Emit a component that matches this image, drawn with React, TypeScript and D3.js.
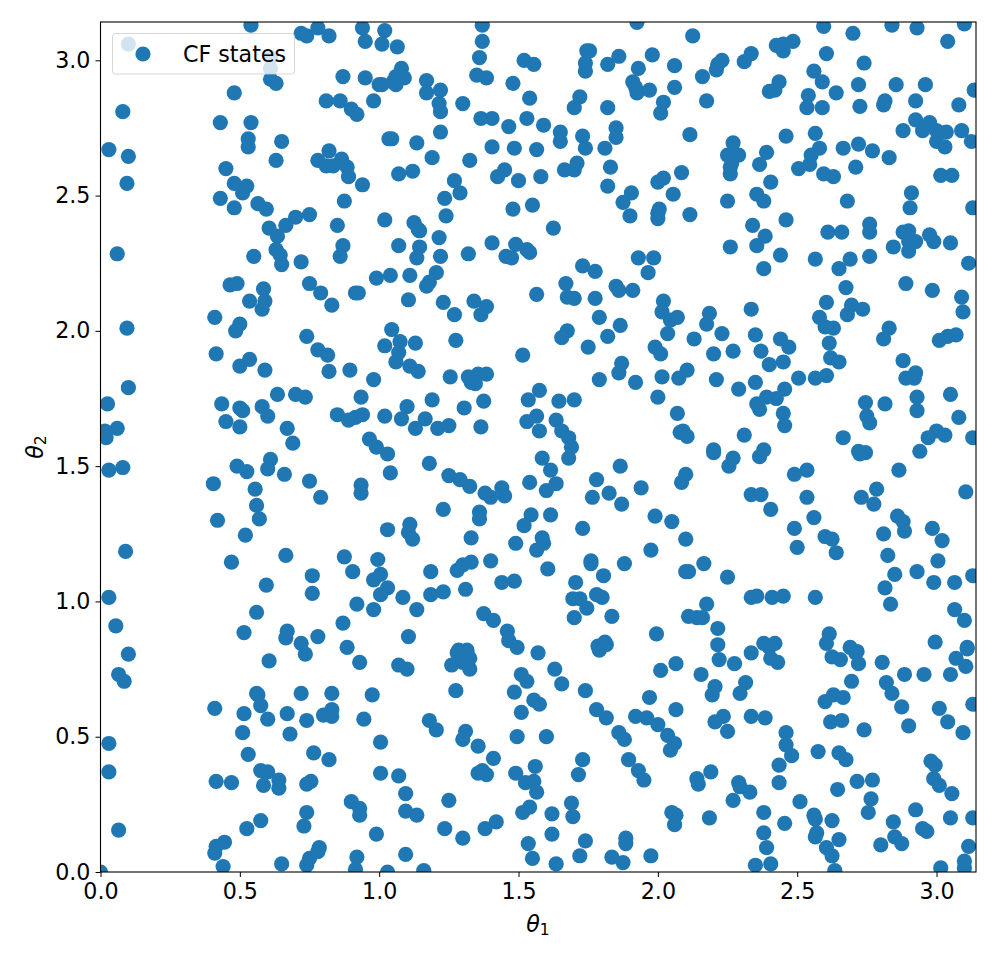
import React, { useRef, useEffect } from "react";
import * as d3 from "d3";

type Pt = [number, number];

const xTicks = [0, 0.5, 1, 1.5, 2, 2.5, 3];
const yTicks = [0, 0.5, 1, 1.5, 2, 2.5, 3];
const legendLabel = "CF states";

// [theta1, theta2]
const statesTopLeft: Pt[] = [
  [0.54,3.13],[0.72,3.10],[0.74,3.09],[0.78,3.12],[0.82,3.09],[0.94,3.12],[1.02,3.11],[0.95,3.07],[1.01,3.06],[0.10,3.06],
  [0.61,3.01],[0.61,2.97],[0.61,2.93],[0.63,2.915],[0.48,2.88],[0.08,2.81],[0.43,2.77],[0.54,2.77],[0.53,2.71],[0.53,2.68],
  [0.65,2.70],[0.03,2.67],[0.10,2.645],[0.63,2.63],[0.45,2.60],[0.095,2.545],[0.48,2.545],[0.525,2.535],[0.51,2.51],[0.43,2.49],
  [0.48,2.455],[0.565,2.47],[0.595,2.45],[0.70,2.42],[0.75,2.43],[0.605,2.38],[0.665,2.39],[0.85,2.39],[1.02,2.41],[0.87,2.94],
  [0.95,2.935],[1.00,2.91],[1.05,2.92],[0.81,2.85],[0.86,2.85],[0.90,2.82],[0.92,2.80],[0.98,2.85],[1.035,2.71],[0.78,2.63],
  [0.82,2.665],[0.865,2.635],[0.81,2.61],[0.835,2.61],[0.885,2.605],[0.89,2.57],[0.94,2.54],[0.875,2.48],
];

const statesTopMiddle: Pt[] = [
  [1.065,3.05],[1.37,3.13],[1.37,3.07],[1.36,3.01],[1.35,2.945],[1.385,2.935],[1.52,3.00],[1.555,2.985],[1.48,2.915],[1.54,2.86],
  [1.925,3.14],[1.745,3.035],[1.755,3.035],[1.74,2.99],[1.74,2.96],[1.82,2.985],[1.86,3.015],[1.98,3.02],[2.06,2.98],[1.93,2.97],
  [1.91,2.92],[1.92,2.90],[1.925,2.88],[1.97,2.89],[2.06,2.90],[2.02,2.845],[2.01,2.805],[1.72,2.865],[1.70,2.825],[1.82,2.825],
  [1.08,2.97],[1.06,2.94],[1.075,2.95],[1.09,2.935],[1.06,2.91],[1.01,2.91],[1.17,2.925],[1.17,2.88],[1.22,2.89],[1.215,2.84],
  [1.22,2.81],[1.30,2.84],[1.22,2.735],[1.045,2.71],[1.135,2.695],[1.19,2.64],[1.325,2.63],[1.07,2.58],[1.12,2.59],[1.365,2.785],
  [1.405,2.785],[1.465,2.755],[1.53,2.785],[1.59,2.76],[1.65,2.735],[1.65,2.70],[1.73,2.72],[1.74,2.675],[1.81,2.675],[1.85,2.75],
  [1.85,2.715],[1.83,2.605],[1.405,2.68],[1.485,2.675],[1.565,2.67],[1.45,2.595],[1.425,2.57],[1.50,2.555],[1.58,2.57],[1.27,2.555],
  [1.29,2.51],[1.235,2.49],[1.24,2.425],[1.48,2.45],[1.55,2.465],[1.125,2.40],[1.14,2.375],[1.625,2.38],[1.665,2.595],[1.70,2.595],
  [1.71,2.62],[1.82,2.535],[1.905,2.51],[1.875,2.475],[1.90,2.425],[2.00,2.55],[2.02,2.565],[2.085,2.585],[2.055,2.505],[2.005,2.45],
  [2.00,2.435],[2.00,2.415],
];

const statesTopRight: Pt[] = [
  [2.125,3.09],[2.595,3.125],[2.70,3.10],[2.84,3.13],[2.93,3.12],[3.10,3.135],[3.04,3.07],[2.485,3.07],[2.425,3.055],[2.45,3.06],
  [2.45,3.035],[2.335,3.025],[2.31,2.995],[2.23,3.00],[2.21,2.965],[2.215,2.985],[2.16,2.94],[2.605,3.025],
  [2.74,2.99],[2.56,2.96],[2.59,2.92],[2.435,2.92],[2.40,2.885],[2.42,2.89],[2.175,2.85],[2.54,2.87],[2.535,2.825],[2.59,2.825],
  [2.64,2.88],[2.72,2.91],[2.725,2.83],[2.855,2.91],[2.96,2.91],[3.135,2.89],[2.925,2.85],[2.815,2.85],[2.81,2.835],[3.08,2.835],
  [2.925,2.78],[2.975,2.77],[2.88,2.74],[2.95,2.74],[3.00,2.74],[3.035,2.735],[3.09,2.74],[3.125,2.70],[3.00,2.70],[3.03,2.68],
  [2.83,2.64],[2.115,2.725],[2.46,2.72],[2.565,2.73],[2.27,2.695],[2.25,2.65],[2.27,2.66],[2.29,2.65],[2.265,2.62],[2.26,2.58],
  [2.26,2.605],[2.39,2.66],[2.365,2.615],[2.405,2.55],[2.355,2.505],[2.38,2.48],[2.25,2.48],[2.115,2.43],[2.34,2.39],[2.46,2.41],
  [2.58,2.675],[2.55,2.65],[2.545,2.615],[2.505,2.60],[2.595,2.58],[2.63,2.57],[2.665,2.675],[2.72,2.69],[2.77,2.665],[2.71,2.605],
  [2.91,2.51],[2.905,2.455],[3.015,2.575],[3.055,2.575],[3.13,2.455],[2.68,2.48],[2.76,2.395],[2.76,2.365],[2.61,2.365],
  [2.66,2.365],[2.90,2.37],[2.88,2.365],[2.975,2.355],
];

const statesUpperLeft: Pt[] = [
  [0.06,2.285],[0.095,2.01],[0.10,1.79],[0.025,1.73],[0.06,1.64],[0.015,1.63],[0.02,1.605],[0.55,2.275],[0.635,2.35],[0.63,2.30],
  [0.645,2.28],[0.65,2.245],[0.72,2.255],[0.87,2.315],[0.86,2.275],[0.465,2.17],[0.49,2.175],[0.585,2.155],[0.59,2.11],[0.535,2.11],
  [0.58,2.08],[0.41,2.05],[0.50,2.025],[0.485,2.00],[0.75,2.175],[0.79,2.14],[0.83,2.095],[0.915,2.14],[0.925,2.14],[0.99,2.195],
  [1.04,2.205],[0.74,1.98],[0.78,1.93],[0.815,1.91],[0.82,1.85],[0.895,1.855],[0.98,1.82],[1.02,1.945],[1.045,2.005],[0.415,1.915],
  [0.535,1.895],[0.50,1.87],[0.59,1.855],[0.635,1.765],[0.70,1.765],[0.735,1.755],[0.935,1.755],[0.435,1.73],[0.50,1.715],[0.51,1.705],
  [0.58,1.72],[0.60,1.685],[0.45,1.665],[0.50,1.645],[0.67,1.64],[0.85,1.69],[0.89,1.67],[0.915,1.68],[0.94,1.69],[1.02,1.685],
  [0.965,1.60],
];

const statesUpperMiddle: Pt[] = [
  [1.145,2.37],[1.215,2.345],[1.07,2.315],[1.145,2.31],[1.135,2.27],[1.22,2.275],[1.32,2.285],[1.405,2.325],[1.49,2.32],[1.455,2.275],
  [1.475,2.27],[1.53,2.30],[1.54,2.29],[1.73,2.24],[1.775,2.22],[1.93,2.27],[1.985,2.27],[1.965,2.215],[1.67,2.175],[1.675,2.125],
  [1.70,2.12],[1.775,2.12],[1.79,2.05],[1.85,2.165],[1.86,2.15],[1.91,2.15],[2.02,2.11],[2.015,2.07],[2.045,2.04],[2.07,2.05],
  [2.035,1.99],[1.865,2.02],[1.82,1.98],[1.75,1.94],[1.675,2.00],[1.655,1.975],[1.99,1.94],[2.01,1.915],[1.565,2.135],[1.11,2.205],
  [1.205,2.215],[1.18,2.18],[1.17,2.165],[1.105,2.115],[1.23,2.105],[1.27,2.06],[1.34,2.11],[1.385,2.09],[1.365,2.06],
  [1.075,1.96],[1.13,1.955],[1.07,1.92],[1.06,1.885],[1.11,1.87],[1.14,1.85],[1.275,1.965],[1.515,1.91],[1.255,1.83],[1.32,1.83],
  [1.355,1.84],[1.385,1.84],[1.33,1.81],[1.345,1.805],[1.19,1.745],[1.10,1.72],[1.08,1.675],[1.165,1.675],[1.13,1.64],[1.21,1.64],
  [1.25,1.65],[1.305,1.715],[1.375,1.74],[1.365,1.645],[1.575,1.78],[1.535,1.745],[1.645,1.74],[1.70,1.745],[1.565,1.685],[1.53,1.665],
  [1.635,1.67],[1.655,1.63],[1.575,1.63],[1.68,1.605],[1.87,1.88],[1.86,1.845],[1.79,1.82],[1.92,1.81],[2.015,1.83],[2.075,1.825],
  [2.00,1.755],[2.07,1.695],[2.08,1.625],
];

const statesUpperRight: Pt[] = [
  [2.26,2.31],[2.385,2.35],[2.355,2.315],[2.44,2.28],[2.38,2.23],[2.565,2.265],[2.69,2.265],[2.65,2.23],[2.76,2.275],[2.845,2.31],
  [2.90,2.33],[2.925,2.33],[2.90,2.295],[2.99,2.33],[3.05,2.325],[3.115,2.25],[2.89,2.175],[2.985,2.15],[3.09,2.125],[3.095,2.07],
  [2.675,2.16],[2.605,2.105],[2.695,2.095],[2.68,2.06],[2.735,2.08],[2.58,2.05],[2.60,2.015],[2.63,2.01],[2.615,1.955],[2.62,1.90],
  [2.65,1.885],[2.605,1.835],[2.565,1.825],[2.505,1.825],[2.455,1.785],[2.425,1.75],[2.39,1.755],[2.355,1.73],[2.365,1.71],[2.45,1.695],
  [2.455,1.65],[2.31,1.615],[2.35,1.81],[2.29,1.785],[2.21,1.82],[2.105,1.855],[2.185,2.065],[2.335,2.08],[2.175,2.025],[2.23,1.99],
  [2.13,1.97],[2.35,1.985],[2.20,1.915],[2.27,1.925],[2.37,1.925],[2.44,1.97],[2.47,1.94],[2.40,1.875],[2.45,1.885],[2.83,2.01],
  [2.81,1.97],[3.01,1.965],[3.04,1.98],[3.07,1.985],[2.88,1.89],[2.925,1.845],[2.89,1.825],[2.92,1.825],[2.93,1.755],[2.93,1.705],
  [3.05,1.765],[2.745,1.735],[2.815,1.73],[2.75,1.685],[2.76,1.66],[3.08,1.68],[3.00,1.63],[3.03,1.615],[2.97,1.605],[2.665,1.605],
  [3.13,1.605],[2.09,1.63],[2.105,1.61],
];

const statesLowerLeft: Pt[] = [
  [0.03,1.485],[0.08,1.495],[0.09,1.185],[0.03,1.015],[0.055,0.91],[0.405,1.435],[0.49,1.50],[0.525,1.48],[0.61,1.525],[0.60,1.49],
  [0.66,1.47],[0.69,1.585],[0.555,1.415],[0.56,1.355],[0.57,1.305],[0.42,1.30],[0.52,1.245],[0.75,1.445],[0.79,1.385],[0.935,1.43],
  [0.935,1.40],[0.99,1.57],[1.03,1.545],[1.04,1.475],[1.03,1.265],[0.665,1.17],[0.47,1.145],[0.875,1.165],[0.905,1.11],[0.995,1.155],
  [1.005,1.10],[0.98,1.08],[1.03,1.05],[1.005,1.025],[0.76,1.095],[0.76,1.03],[0.595,1.06],[0.92,0.99],[0.98,0.97],[0.56,0.96],
  [0.515,0.885],[0.67,0.89],[0.665,0.865],[0.72,0.845],[0.78,0.87],[0.87,0.92],[0.885,0.83],
];

const statesLowerMiddle: Pt[] = [
  [1.18,1.51],[1.25,1.465],[1.29,1.45],[1.325,1.425],[1.38,1.40],[1.40,1.385],[1.44,1.42],[1.45,1.39],[1.585,1.53],
  [1.615,1.485],[1.54,1.44],[1.60,1.41],[1.635,1.435],[1.68,1.53],[1.69,1.57],[1.865,1.50],[1.78,1.45],[1.765,1.385],[1.825,1.40],
  [1.87,1.36],[1.94,1.42],[1.23,1.34],[1.36,1.33],[1.36,1.305],[1.545,1.32],[1.52,1.28],[1.615,1.32],[1.73,1.27],
  [1.99,1.315],[2.05,1.295],[1.11,1.285],[1.105,1.255],[1.12,1.23],[1.33,1.235],[1.49,1.215],[1.585,1.235],[1.59,1.215],[1.565,1.19],
  [1.975,1.19],[1.185,1.11],[1.40,1.15],[1.28,1.115],[1.30,1.135],[1.33,1.145],[1.605,1.12],[1.76,1.15],[1.76,1.14],
  [1.88,1.14],[1.805,1.095],[1.705,1.07],[1.44,1.07],[1.485,1.075],[1.31,1.045],[1.085,1.015],[1.185,1.025],[1.23,1.035],[1.135,0.97],
  [1.695,1.01],[1.72,1.01],[1.78,1.025],[1.80,1.015],[1.745,0.975],[1.70,0.94],[1.835,0.945],[1.375,0.955],[1.41,0.93],[1.46,0.89],
  [1.465,0.855],[1.495,0.83],[1.57,0.81],[1.105,0.87],[1.995,0.88],[1.81,0.85],[1.785,0.835],[1.285,0.82],[1.315,0.82],
];

const statesLowerRight: Pt[] = [
  [2.20,1.56],[2.20,1.55],[2.27,1.53],[2.255,1.50],[2.38,1.56],[2.365,1.535],[2.72,1.555],[2.745,1.55],[2.725,1.545],[2.94,1.555],
  [2.865,1.485],[2.535,1.485],[2.49,1.47],[3.105,1.405],[2.10,1.47],[2.085,1.44],[2.785,1.415],[2.73,1.385],[2.775,1.36],
  [2.335,1.395],[2.37,1.395],[2.405,1.34],[2.535,1.385],[2.56,1.31],[2.49,1.27],[2.50,1.20],[2.60,1.24],[2.625,1.23],[2.64,1.18],
  [2.86,1.315],[2.88,1.295],[2.885,1.26],[2.81,1.25],[2.985,1.27],[3.02,1.225],[2.825,1.17],[3.005,1.15],[2.10,1.23],[2.165,1.14],
  [2.10,1.11],[2.11,1.11],[2.25,1.09],[2.85,1.10],[2.93,1.11],[2.99,1.07],[3.065,1.07],[3.13,1.095],[2.815,1.05],[2.835,0.99],
  [2.335,1.015],[2.355,1.02],[2.41,1.015],[2.45,1.02],[2.565,1.015],[2.175,0.99],[2.11,0.945],[2.14,0.94],[2.16,0.94],[2.215,0.90],
  [2.215,0.84],[2.615,0.88],[2.605,0.845],[2.69,0.83],[2.715,0.815],[3.065,0.97],[3.10,0.93],[2.995,0.85],[3.11,0.83],[2.38,0.845],
  [2.42,0.845],[2.40,0.83],[2.335,0.81],
];

const statesBottomLeft: Pt[] = [
  [0.10,0.805],[0.065,0.73],[0.085,0.705],[0.03,0.475],[0.03,0.37],[0.065,0.155],[0.0,0.0],[0.605,0.78],[0.735,0.805],[0.93,0.775],
  [0.41,0.605],[0.56,0.66],[0.565,0.655],[0.575,0.615],[0.515,0.585],[0.60,0.565],[0.67,0.585],[0.74,0.56],[0.72,0.66],[0.83,0.66],
  [0.80,0.58],[0.83,0.60],[0.83,0.575],[0.975,0.655],[0.945,0.565],[0.51,0.515],[0.68,0.51],[1.005,0.48],[0.53,0.435],[0.765,0.44],
  [0.82,0.415],[0.575,0.375],[0.60,0.37],[1.005,0.365],[0.415,0.335],[0.47,0.33],[0.585,0.32],[0.64,0.34],[0.64,0.31],[0.755,0.335],
  [0.74,0.325],[0.90,0.26],[0.93,0.235],[0.93,0.21],[0.74,0.22],[0.73,0.17],[0.575,0.19],[0.525,0.16],[0.99,0.14],[0.445,0.11],
  [0.415,0.095],[0.41,0.07],[0.44,0.02],[0.65,0.03],[0.74,0.025],[0.75,0.05],[0.785,0.09],[0.78,0.075],[0.92,0.055],[0.915,0.01],
  [1.03,0.0],
];

const statesBottomMiddle: Pt[] = [
  [1.07,0.765],[1.10,0.75],[1.28,0.81],[1.315,0.81],[1.325,0.79],[1.26,0.765],[1.30,0.775],[1.325,0.75],[1.30,0.795],[1.63,0.75],
  [1.655,0.695],[1.51,0.73],[1.53,0.705],[1.485,0.665],[1.74,0.67],[1.275,0.67],[1.555,0.635],[1.575,0.62],[1.51,0.59],[1.78,0.60],
  [1.815,0.57],[1.97,0.645],[2.01,0.745],[2.065,0.77],[2.065,0.60],[1.79,0.82],[1.815,0.84],[1.92,0.575],[1.96,0.57],[2.00,0.545],
  [2.035,0.505],[2.06,0.475],[2.045,0.45],[1.86,0.515],[1.88,0.49],[1.895,0.415],[1.93,0.375],[1.95,0.34],[1.18,0.56],[1.205,0.525],
  [1.31,0.52],[1.30,0.49],[1.355,0.465],[1.41,0.42],[1.495,0.50],[1.60,0.50],[1.73,0.415],[1.715,0.36],[1.56,0.39],[1.49,0.365],
  [1.355,0.365],[1.37,0.375],[1.385,0.36],[1.07,0.355],[1.095,0.29],[1.525,0.33],[1.555,0.335],[1.565,0.295],[1.095,0.225],[1.135,0.21],
  [1.25,0.265],[1.515,0.22],[1.54,0.24],[1.62,0.215],[1.69,0.255],[1.695,0.205],[1.235,0.16],[1.30,0.125],[1.38,0.16],[1.42,0.185],
  [1.62,0.14],[1.535,0.105],[1.55,0.05],[1.635,0.03],[1.72,0.06],[1.74,0.115],[1.835,0.055],[1.875,0.035],[1.885,0.125],[1.885,0.105],
  [1.975,0.06],[1.095,0.065],[1.16,0.005],[2.05,0.22],[2.065,0.21],[2.06,0.175],
];

const statesBottomRight: Pt[] = [
  [2.22,0.785],[2.275,0.77],[2.405,0.79],[2.43,0.775],[2.155,0.73],[2.205,0.685],[2.195,0.655],[2.315,0.70],[2.295,0.66],[2.235,0.575],
  [2.205,0.555],[2.25,0.52],[2.335,0.575],[2.385,0.57],[2.46,0.515],[2.46,0.47],[2.48,0.43],[2.435,0.395],[2.435,0.33],[2.14,0.345],
  [2.145,0.325],[2.19,0.37],[2.29,0.33],[2.295,0.315],[2.33,0.295],[2.27,0.265],[2.38,0.22],[2.38,0.145],[2.455,0.18],[2.39,0.09],
  [2.35,0.025],[2.405,0.03],[2.51,0.26],[2.185,0.20],[2.56,0.21],[2.565,0.195],[2.625,0.19],[2.57,0.145],[2.565,0.13],[2.65,0.12],
  [2.605,0.09],[2.625,0.06],[2.635,0.005],[2.575,0.445],[2.65,0.44],[2.675,0.415],[2.645,0.305],[2.715,0.335],[2.77,0.34],[2.765,0.27],
  [2.755,0.22],[2.625,0.795],[2.655,0.785],[2.71,0.81],[2.72,0.77],[2.805,0.775],[2.695,0.705],[2.60,0.63],[2.63,0.655],[2.665,0.645],
  [2.62,0.555],[2.66,0.56],[2.74,0.525],[2.82,0.70],[2.84,0.66],[2.875,0.61],[2.885,0.73],[2.955,0.73],[2.90,0.54],[3.05,0.73],
  [3.07,0.79],[3.105,0.76],[3.11,0.825],[3.01,0.605],[3.04,0.555],[3.095,0.515],[3.13,0.62],[2.98,0.41],[2.995,0.395],[2.99,0.345],
  [3.01,0.32],[3.055,0.29],[2.925,0.23],[3.05,0.20],[3.13,0.20],[2.845,0.185],[2.80,0.10],[2.85,0.13],[2.875,0.105],[2.95,0.16],
  [2.965,0.15],[3.115,0.095],[3.10,0.04],[3.10,0.015],[3.015,0.015],
];

const allStates: Pt[] = [
  ...statesTopLeft, ...statesTopMiddle, ...statesTopRight,
  ...statesUpperLeft, ...statesUpperMiddle, ...statesUpperRight,
  ...statesLowerLeft, ...statesLowerMiddle, ...statesLowerRight,
  ...statesBottomLeft, ...statesBottomMiddle, ...statesBottomRight,
];

const WIDTH = 1000;
const HEIGHT = 956;
const margin = { left: 100.5, right: 24, top: 22, bottom: 84 };
const BLUE = "#1f77b4";
const FONT = "'DejaVu Sans', sans-serif";
const FONT_SIZE = 22.2;

export default function App() {
  const svgRef = useRef<SVGSVGElement>(null);

  useEffect(() => {
    const svg = d3.select(svgRef.current);
    svg.selectAll("*").remove();

    const xScale = d3.scaleLinear().domain([0, Math.PI]).range([margin.left, WIDTH - margin.right]);
    const yScale = d3.scaleLinear().domain([0, Math.PI]).range([HEIGHT - margin.bottom, margin.top]);
    const plotW = WIDTH - margin.right - margin.left;
    const plotH = HEIGHT - margin.bottom - margin.top;

    svg.append("clipPath").attr("id", "plot-clip")
      .append("rect")
      .attr("x", margin.left).attr("y", margin.top)
      .attr("width", plotW).attr("height", plotH);

    // points
    svg.append("g")
      .attr("clip-path", "url(#plot-clip)")
      .selectAll("circle")
      .data(allStates)
      .join("circle")
      .attr("cx", d => xScale(d[0]))
      .attr("cy", d => yScale(d[1]))
      .attr("r", 7.6)
      .attr("fill", BLUE);

    // axes
    const xAxis = d3.axisBottom(xScale).tickValues(xTicks).tickFormat(d3.format(".1f") as any).tickSize(5).tickPadding(6).tickSizeOuter(0);
    const yAxis = d3.axisLeft(yScale).tickValues(yTicks).tickFormat(d3.format(".1f") as any).tickSize(5).tickPadding(5).tickSizeOuter(0);

    const gx = svg.append("g").attr("transform", `translate(0,${HEIGHT - margin.bottom})`).call(xAxis);
    const gy = svg.append("g").attr("transform", `translate(${margin.left},0)`).call(yAxis);
    [gx, gy].forEach(g => {
      g.select(".domain").remove();
      g.selectAll("line").attr("stroke", "#000").attr("stroke-width", 1);
      g.selectAll("text").attr("font-family", FONT).attr("font-size", FONT_SIZE).attr("fill", "#000");
    });

    // frame
    svg.append("rect")
      .attr("x", margin.left).attr("y", margin.top)
      .attr("width", plotW).attr("height", plotH)
      .attr("fill", "none").attr("stroke", "#000").attr("stroke-width", 1.1);

    // axis labels
    const xLabel = svg.append("text")
      .attr("x", 538).attr("y", 932)
      .attr("text-anchor", "middle")
      .attr("font-family", FONT).attr("font-size", FONT_SIZE);
    xLabel.append("tspan").attr("font-style", "italic").text("θ");
    xLabel.append("tspan").attr("font-size", 15.5).attr("dy", 3).text("1");

    const yLabel = svg.append("text")
      .attr("transform", "translate(43,447) rotate(-90)")
      .attr("text-anchor", "middle")
      .attr("font-family", FONT).attr("font-size", FONT_SIZE);
    yLabel.append("tspan").attr("font-style", "italic").text("θ");
    yLabel.append("tspan").attr("font-size", 15.5).attr("dy", 3).text("2");

    // legend
    const legend = svg.append("g");
    legend.append("rect")
      .attr("x", 112.5).attr("y", 33.5)
      .attr("width", 182).attr("height", 40.5)
      .attr("rx", 3)
      .attr("fill", "#fff").attr("fill-opacity", 0.8)
      .attr("stroke", "#ccc").attr("stroke-opacity", 0.8);
    legend.append("circle")
      .attr("cx", 143).attr("cy", 54).attr("r", 7.6).attr("fill", BLUE);
    legend.append("text")
      .attr("x", 183).attr("y", 61.5)
      .attr("font-family", FONT).attr("font-size", FONT_SIZE)
      .text(legendLabel);
  }, []);

  return (
    <svg
      ref={svgRef}
      width={WIDTH}
      height={HEIGHT}
      style={{ position: "absolute", left: 0, top: 0, background: "#fff" }}
    />
  );
}
